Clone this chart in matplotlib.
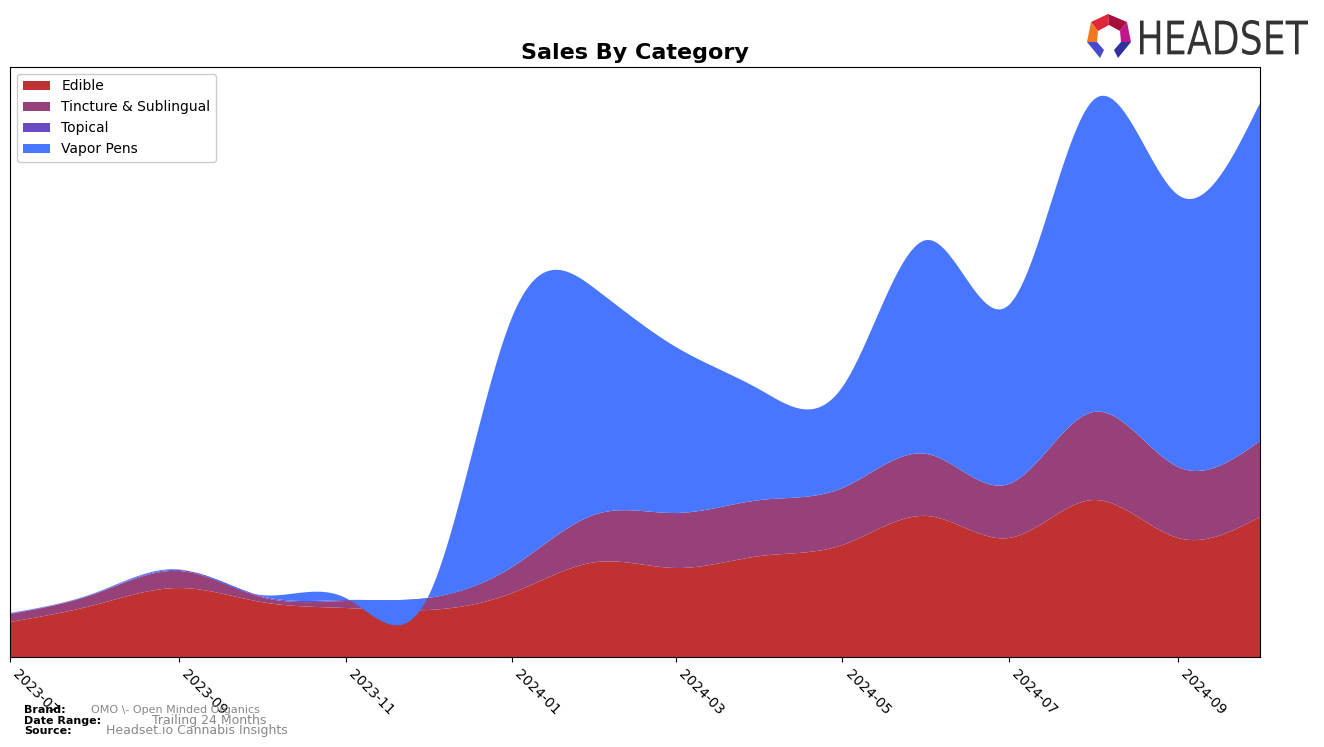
"""
Sales By Category - smoothed stacked area chart (Headset style).
"""

import matplotlib
matplotlib.use("Agg")
import matplotlib.pyplot as plt
import matplotlib.dates as mdates
from matplotlib.patches import Polygon, PathPatch
from matplotlib.textpath import TextPath
from matplotlib.font_manager import FontProperties
from matplotlib.transforms import Affine2D
import numpy as np
import pandas as pd

# monthly sales (relative units)
MONTHS = pd.date_range("2023-07-01", "2024-10-01", freq="MS")
EDIBLE = [35, 52, 69, 55, 49, 47, 64, 95, 89, 101, 112, 141, 119, 157, 119, 140]
TINCTURE = [8, 11, 17, 5, 7, 12, 26, 48, 55, 56, 57, 62, 54, 88, 71, 76]
TOPICAL = [0.5, 0.5, 1, 1, 1, 0, 0, 0, 0, 0, 0, 0, 0, 0, 0, 0]
VAPOR = [0.5, 0.5, 0.5, 1, 2, 0, 250, 224, 166, 110, 101, 214, 179, 312, 272, 338]

CATEGORIES = ["Edible", "Tincture & Sublingual", "Topical", "Vapor Pens"]
COLORS = ["#c03232", "#96417a", "#6a4bc4", "#4876ff"]


def natural_spline(x, y, xs):
    """Natural cubic spline through (x, y), evaluated at xs."""
    x = np.asarray(x, float)
    y = np.asarray(y, float)
    n = len(x)
    h = np.diff(x)
    A = np.zeros((n, n))
    b = np.zeros(n)
    A[0, 0] = A[-1, -1] = 1
    for i in range(1, n - 1):
        A[i, i - 1] = h[i - 1]
        A[i, i] = 2 * (h[i - 1] + h[i])
        A[i, i + 1] = h[i]
        b[i] = 3 * ((y[i + 1] - y[i]) / h[i] - (y[i] - y[i - 1]) / h[i - 1])
    c = np.linalg.solve(A, b)
    idx = np.clip(np.searchsorted(x, xs) - 1, 0, n - 2)
    dx = xs - x[idx]
    bb = (y[idx + 1] - y[idx]) / h[idx] - h[idx] * (2 * c[idx] + c[idx + 1]) / 3
    dd = (c[idx + 1] - c[idx]) / (3 * h[idx])
    return y[idx] + bb * dx + c[idx] * dx ** 2 + dd * dx ** 3


W, H = 1324, 747
fig = plt.figure(figsize=(W / 100, H / 100), dpi=100)
ax = fig.add_axes([10 / W, 1 - 657 / H, 1250 / W, 590 / H])

xnum = mdates.date2num(MONTHS)
xs = np.linspace(xnum[0], xnum[-1], 800)
smooth = [natural_spline(xnum, s, xs) for s in (EDIBLE, TINCTURE, TOPICAL, VAPOR)]

ax.stackplot(mdates.num2date(xs), *smooth, colors=COLORS, labels=CATEGORIES,
             linewidth=0)

ax.set_xlim(MONTHS[0], MONTHS[-1])
ax.set_ylim(0, 590)
ax.set_yticks([])
ax.xaxis.set_major_locator(mdates.MonthLocator(bymonth=[1, 3, 5, 7, 9, 11]))
ax.xaxis.set_major_formatter(mdates.DateFormatter("%Y-%m"))
for lbl in ax.get_xticklabels():
    lbl.set_rotation(-45)
    lbl.set_ha("left")
    lbl.set_fontsize(10)

ax.set_title("Sales By Category", fontsize=16, fontweight="bold", pad=6)
ax.legend(loc="upper left", fontsize=10, framealpha=1)

# footer
fig.text(0.018, 0.045, "Brand:", fontsize=8, fontweight="bold")
fig.text(0.069, 0.045, "OMO \\- Open Minded Organics", fontsize=8, color="#888")
fig.text(0.018, 0.031, "Date Range:", fontsize=8, fontweight="bold")
fig.text(0.115, 0.031, "Trailing 24 Months", fontsize=9, color="#888")
fig.text(0.018, 0.017, "Source:", fontsize=8, fontweight="bold")
fig.text(0.080, 0.017, "Headset.io Cannabis Insights", fontsize=9, color="#888")

# logo, drawn in pixel units (x right, y up) over px 1085..1310, 12..60
lax = fig.add_axes([1085 / W, 1 - 60 / H, 225 / W, 48 / H])
lax.set_xlim(0, 225)
lax.set_ylim(0, 48)
lax.axis("off")

tp = TextPath((0, 0), "HEADSET", size=40, prop=FontProperties(family="DejaVu Sans"))
ext = tp.get_extents()
tf = (Affine2D().translate(-ext.x0, -ext.y0)
      .scale(168 / ext.width, 35 / ext.height)
      .translate(1140 - 1085, 60 - 55))
lax.add_patch(PathPatch(tf.transform_path(tp), color="#333333", lw=0))


def px(pts):
    return [(x - 1085, 60 - y) for x, y in pts]


pieces = [
    ([(1091, 22), (1108, 14), (1109, 25), (1098, 31)], "#e0283a"),
    ([(1108, 14), (1127, 22), (1120, 31), (1109, 25)], "#a8103c"),
    ([(1091, 22), (1098, 31), (1097, 42), (1087, 42)], "#f07820"),
    ([(1127, 22), (1131, 42), (1121, 42), (1120, 31)], "#c0188a"),
    ([(1087, 42), (1097, 42), (1104, 50), (1100, 58)], "#4848d0"),
    ([(1131, 42), (1121, 42), (1114, 50), (1118, 58)], "#3030a0"),
]
for pts, col in pieces:
    lax.add_patch(Polygon(px(pts), closed=True, color=col, lw=0))

fig.savefig("out.png", dpi=100)
